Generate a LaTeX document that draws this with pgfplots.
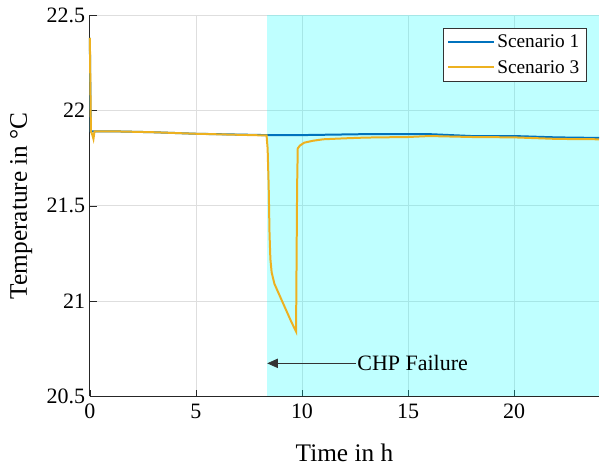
\documentclass[border=0pt]{standalone}
\usepackage{fontspec}
\setmainfont{Liberation Serif}
\usepackage{pgfplots}
\pgfplotsset{compat=1.18}
\usetikzlibrary{arrows.meta}

\definecolor{mblue}{rgb}{0,0.447,0.741}
\definecolor{morange}{rgb}{0.929,0.694,0.125}
\definecolor{failcyan}{RGB}{0,255,255}

\pgfplotsset{
    matlabline/.style={line width=1.5pt},
}

\begin{document}
\begin{tikzpicture}
\begin{axis}[
    scale only axis,
    width=382.5pt, height=286.5pt,
    xmin=0, xmax=24,
    ymin=20.5, ymax=22.5,
    xtick={0,5,10,15,20},
    ytick={20.5,21,21.5,22,22.5},
    axis lines=left,
    axis line style={-, black!85, line width=0.6pt},
    tick align=inside,
    major tick length=5pt,
    tick style={black!85},
    grid=major,
    grid style={black!13, line width=0.6pt},
    /pgf/number format/assume math mode=true,
    ticklabel style={font=\fontsize{16.5}{18}\selectfont},
    xticklabel style={yshift=-2pt},
    label style={font=\fontsize{19}{21}\selectfont},
    xlabel={Time in h},
    ylabel={Temperature in °C},
    xlabel style={yshift=-12pt},
    ylabel style={yshift=4pt},
    clip=false,
    legend cell align=left,
    legend style={at={(0.975,0.966)}, anchor=north east,
        draw=black!80, fill=white, font=\fontsize{14.5}{17}\selectfont,
        row sep=4pt, inner xsep=3pt, inner ysep=3pt},
    legend image code/.code={%
        \draw[#1] plot coordinates {(0pt,0.4pt) (34pt,0.4pt)};},
]

% failure period
\addplot[fill=failcyan, fill opacity=0.25, draw=none, forget plot]
    coordinates {(8.33,20.5) (24,20.5) (24,22.5) (8.33,22.5)} -- cycle;

% Scenario 1
\addplot[draw=mblue, matlabline] coordinates {
    (0,22.38) (0.04,21.89) (1,21.89) (3,21.885) (5,21.877) (8.3,21.87)
    (10,21.87) (13,21.875) (16,21.875) (18,21.865) (20,21.865)
    (22,21.858) (24,21.855)
};
\addlegendentry{Scenario 1}

% Scenario 3
\addplot[draw=morange, matlabline] coordinates {
    (0,22.38) (0.05,21.89) (0.12,21.87) (0.17,21.85) (0.22,21.89)
    (1,21.89) (3,21.885) (5,21.877) (8.33,21.868)
    (8.38,21.80) (8.43,21.6) (8.47,21.35) (8.51,21.22) (8.57,21.15)
    (8.7,21.09) (8.9,21.04) (9.1,20.99) (9.3,20.94) (9.5,20.89) (9.72,20.84)
    (9.77,21.6) (9.8,21.80) (9.9,21.815) (10.1,21.83) (10.5,21.84)
    (11,21.848) (12,21.853) (13,21.857) (15,21.86) (16,21.865)
    (18,21.86) (20,21.858) (22,21.85) (24,21.848)
};
\addlegendentry{Scenario 3}

% annotation
\draw[-{Triangle[length=8pt,width=7pt]}, black!80, line width=0.6pt]
    (axis cs:12.54,20.673) -- (axis cs:8.36,20.673);
\node[anchor=west, inner sep=1pt, font=\fontsize{16.5}{18}\selectfont]
    at (axis cs:12.54,20.673) {CHP Failure};

% keep the page proportions of the reference
\path (rel axis cs:0,0) ++(-67.5pt,-54pt);
\path (rel axis cs:1,1) ++(0pt,11.25pt);
\end{axis}
\end{tikzpicture}
\end{document}
